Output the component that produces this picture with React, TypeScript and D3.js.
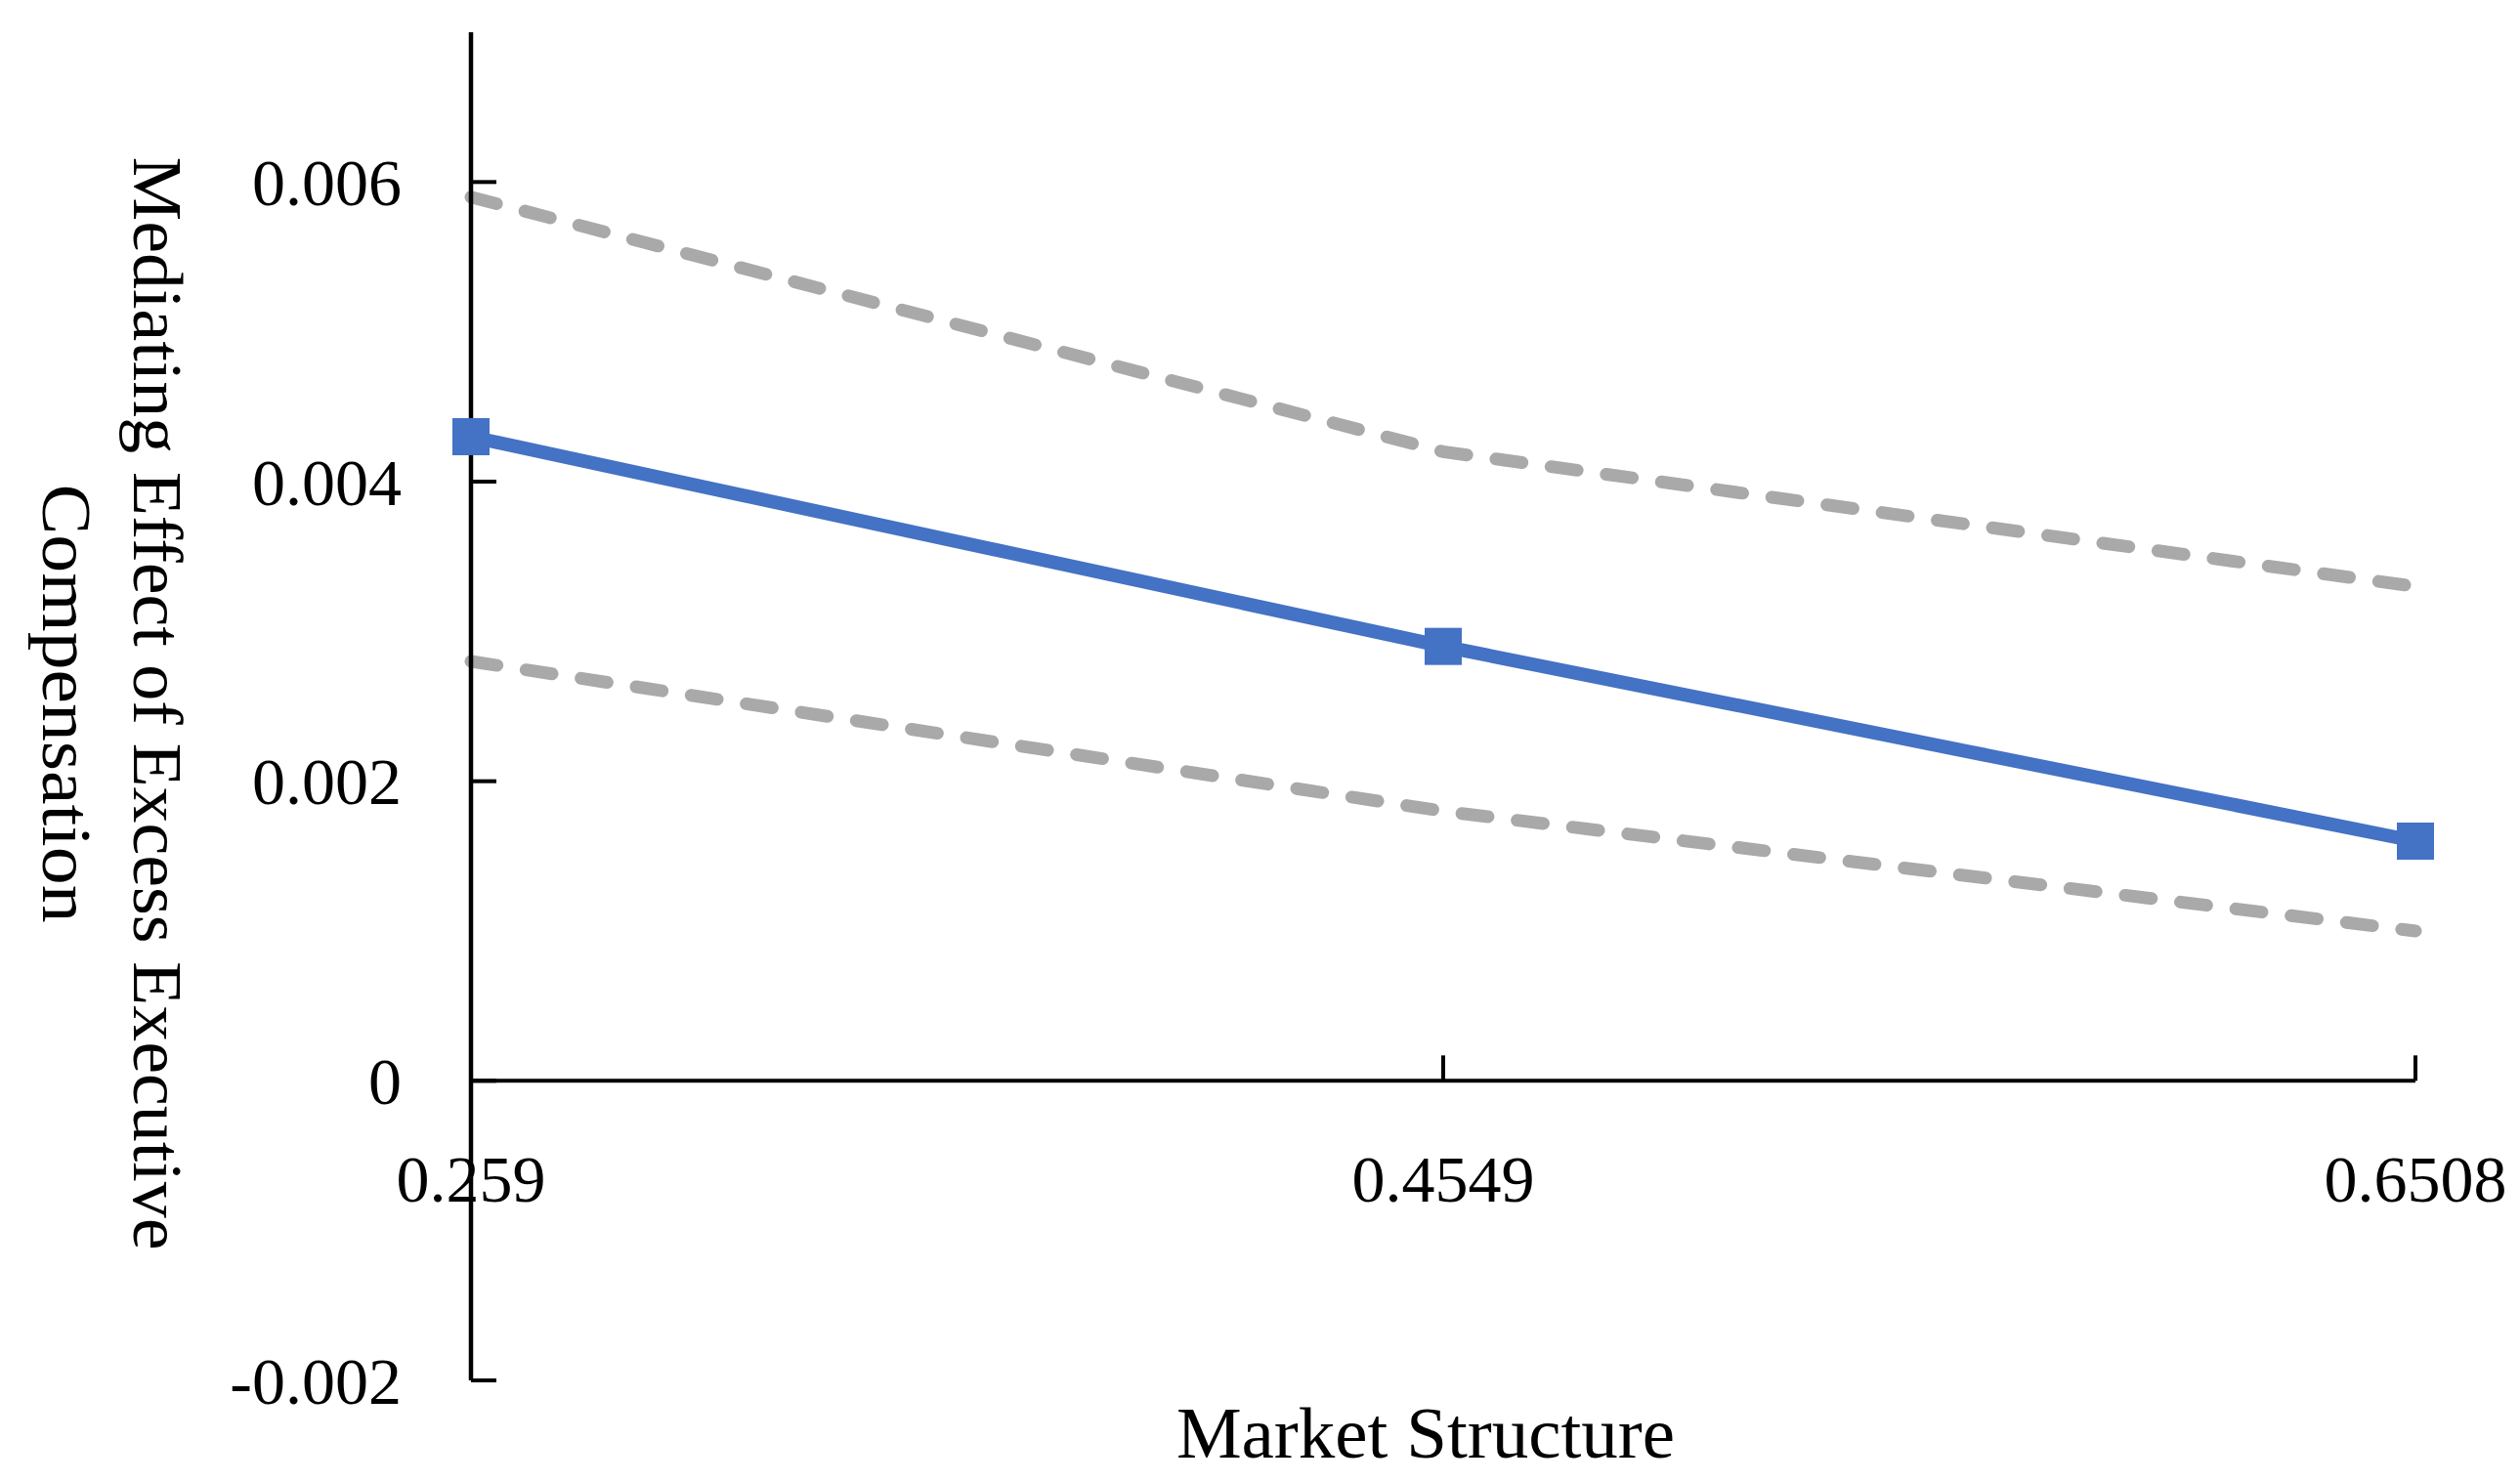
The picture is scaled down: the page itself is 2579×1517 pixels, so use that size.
import React from "react";
import * as d3 from "d3";

const categories = ["0.259", "0.4549", "0.6508"];
const effect = [0.0043, 0.0029, 0.0016];
const upperBound = [0.0059, 0.0042, 0.0033];
const lowerBound = [0.0028, 0.0018, 0.001];
const yTicks = [-0.002, 0, 0.002, 0.004, 0.006];
const yTickLabels = ["-0.002", "0", "0.002", "0.004", "0.006"];

const W = 2579;
const H = 1517;
const FONT = "'Liberation Serif', 'Times New Roman', serif";

export default function App() {
  const x = d3.scalePoint<string>().domain(categories).range([482, 2472]);
  const y = d3.scaleLinear().domain([-0.002, 0.007]).range([1413, 33]);

  const line = d3
    .line<number>()
    .x((_, i) => x(categories[i]) as number)
    .y((d) => y(d));

  const y0 = y(0);

  return (
    <svg
      width={W}
      height={H}
      style={{ position: "absolute", left: 0, top: 0, background: "#fff" }}
    >
      {/* dashed confidence bounds */}
      {[upperBound, lowerBound].map((s, k) => (
        <path
          key={k}
          d={line(s) || ""}
          fill="none"
          stroke="#A9A9A9"
          strokeWidth={13}
          strokeDasharray="27 30"
          strokeLinecap="round"
        />
      ))}

      {/* y axis */}
      <line x1={482} x2={482} y1={y(0.007)} y2={y(-0.002)} stroke="#000" strokeWidth={4.5} />
      {yTicks.map((t, i) => (
        <g key={t}>
          <line x1={482} x2={508} y1={y(t)} y2={y(t)} stroke="#000" strokeWidth={4} />
          <text
            x={411}
            y={y(t)}
            dy="0.35em"
            textAnchor="end"
            fontFamily={FONT}
            fontSize={68}
            fill="#000"
          >
            {yTickLabels[i]}
          </text>
        </g>
      ))}

      {/* x axis */}
      <line x1={482} x2={x(categories[2]) as number} y1={y0} y2={y0} stroke="#000" strokeWidth={4} />
      {categories.map((c) => (
        <g key={c}>
          <line
            x1={x(c) as number}
            x2={x(c) as number}
            y1={y0}
            y2={y0 - 26}
            stroke="#000"
            strokeWidth={4}
          />
          <text
            x={x(c) as number}
            y={1230}
            textAnchor="middle"
            fontFamily={FONT}
            fontSize={68}
            fill="#000"
          >
            {c}
          </text>
        </g>
      ))}

      {/* main effect line */}
      <path d={line(effect) || ""} fill="none" stroke="#4472C4" strokeWidth={14} />
      {effect.map((v, i) => (
        <rect
          key={i}
          x={(x(categories[i]) as number) - 19}
          y={y(v) - 19}
          width={38}
          height={38}
          fill="#4472C4"
        />
      ))}

      {/* axis titles */}
      <text
        x={1459}
        y={1492}
        textAnchor="middle"
        fontFamily={FONT}
        fontSize={75}
        fill="#000"
      >
        Market Structure
      </text>
      <g transform="translate(137,720) rotate(90)">
        <text
          x={0}
          y={0}
          textAnchor="middle"
          fontFamily={FONT}
          fontSize={72}
          textLength={1119}
          lengthAdjust="spacingAndGlyphs"
          fill="#000"
        >
          Mediating Effect of Excess Executive
        </text>
        <text
          x={0}
          y={93}
          textAnchor="middle"
          fontFamily={FONT}
          fontSize={72}
          textLength={449}
          lengthAdjust="spacingAndGlyphs"
          fill="#000"
        >
          Compensation
        </text>
      </g>
    </svg>
  );
}
